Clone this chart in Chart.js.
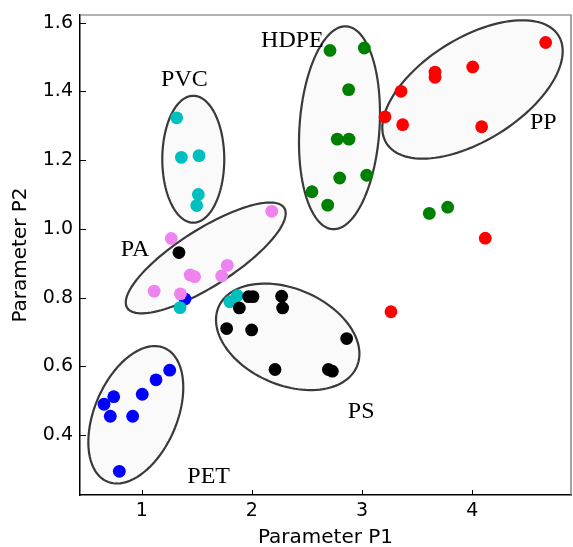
<!DOCTYPE html>
<html><head><meta charset="utf-8">
<script src="https://cdn.jsdelivr.net/npm/chart.js@4/dist/chart.umd.min.js"></script>
<style>html,body{margin:0;padding:0;background:#fff}</style>
</head><body>
<canvas id="c" width="573" height="547"></canvas>
<script>
// ---- data ----
const petX = [0.658, 0.746, 0.715, 0.918, 1.005, 1.13, 1.254, 0.797, 1.393];
const petY = [0.490, 0.512, 0.455, 0.455, 0.519, 0.561, 0.589, 0.295, 0.796];
const paX = [1.268, 2.18, 1.777, 1.113, 1.351, 1.44, 1.48, 1.726];
const paY = [0.972, 1.051, 0.894, 0.819, 0.811, 0.866, 0.861, 0.863];
const pvcX = [1.318, 1.36, 1.52, 1.514, 1.499, 1.348, 1.80, 1.868];
const pvcY = [1.323, 1.208, 1.213, 1.100, 1.068, 0.771, 0.788, 0.806];
const psX = [1.338, 1.97, 2.01, 2.270, 2.279, 1.886, 1.771, 1.998, 2.860, 2.210, 2.694, 2.730];
const psY = [0.931, 0.803, 0.803, 0.804, 0.770, 0.770, 0.710, 0.706, 0.681, 0.591, 0.591, 0.586];
const hdpeX = [2.709, 3.02, 2.878, 2.775, 2.881, 2.797, 3.042, 2.545, 2.688, 3.61, 3.777];
const hdpeY = [1.519, 1.526, 1.405, 1.261, 1.261, 1.148, 1.156, 1.108, 1.069, 1.045, 1.063];
const ppX = [4.666, 4.004, 3.662, 3.662, 3.353, 3.208, 3.368, 4.085, 4.118, 3.262];
const ppY = [1.542, 1.471, 1.456, 1.441, 1.400, 1.326, 1.303, 1.297, 0.973, 0.759];

const xTicks = [1, 2, 3, 4];
const yTicks = [0.4, 0.6, 0.8, 1.0, 1.2, 1.4, 1.6];

const groupNames = ['PVC', 'HDPE', 'PP', 'PA', 'PS', 'PET'];
const labelX = [1.388, 2.368, 4.644, 0.939, 2.992, 1.608];
const labelY = [1.415, 1.529, 1.289, 0.921, 0.449, 0.260];

// ellipse centres and semi-axis vectors, in data units
const ellCX = [1.468, 2.795, 4.002, 1.581, 2.325, 0.9465];
const ellCY = [1.2026, 1.294, 1.4055, 0.9154, 0.686, 0.4593];
const ellUX = [0, 0.0627, 0.7804, 0.7124, 0.6275, 0.2599];
const ellUY = [0.1846, 0.2950, 0.1567, 0.1454, -0.0866, 0.1942];
const ellVX = [0.2813, -0.3621, -0.2474, -0.1385, 0.1726, -0.3436];
const ellVY = [0, 0.0079, 0.1263, 0.0696, 0.1284, 0.0472];

const pts = (xs, ys) => xs.map((x, i) => ({x, y: ys[i]}));

const ellipsePlugin = {
  id: 'ellipses',
  beforeDatasetsDraw(chart) {
    const {ctx, scales: {x, y}} = chart;
    ctx.save();
    for (let k = 0; k < ellCX.length; k++) {
      ctx.beginPath();
      for (let i = 0; i <= 120; i++) {
        const t = i / 120 * Math.PI * 2;
        const dx = ellCX[k] + ellUX[k] * Math.cos(t) + ellVX[k] * Math.sin(t);
        const dy = ellCY[k] + ellUY[k] * Math.cos(t) + ellVY[k] * Math.sin(t);
        const px = x.getPixelForValue(dx), py = y.getPixelForValue(dy);
        if (i === 0) ctx.moveTo(px, py); else ctx.lineTo(px, py);
      }
      ctx.closePath();
      ctx.fillStyle = '#fafafa';
      ctx.fill();
      ctx.strokeStyle = '#3a3a3a';
      ctx.lineWidth = 2.2;
      ctx.stroke();
    }
    ctx.restore();
  },
  afterDatasetsDraw(chart) {
    const {ctx, scales: {x, y}} = chart;
    ctx.save();
    ctx.font = '24px "Liberation Serif", "Times New Roman", serif';
    ctx.fillStyle = '#000';
    ctx.textAlign = 'center';
    ctx.textBaseline = 'alphabetic';
    groupNames.forEach((n, i) => ctx.fillText(n, x.getPixelForValue(labelX[i]), y.getPixelForValue(labelY[i])));
    ctx.restore();
  },
  afterDraw(chart) {
    const {ctx, chartArea: a, scales: {x, y}} = chart;
    ctx.save();
    ctx.strokeStyle = '#666';
    ctx.lineWidth = 1.2;
    ctx.beginPath();
    ctx.moveTo(a.left, a.top); ctx.lineTo(a.right, a.top); ctx.lineTo(a.right, a.bottom);
    ctx.stroke();
    ctx.strokeStyle = '#000';
    ctx.lineWidth = 1;
    ctx.beginPath();
    xTicks.forEach(v => { const p = Math.round(x.getPixelForValue(v)) + 0.5; ctx.moveTo(p, a.bottom); ctx.lineTo(p, a.bottom - 5); });
    yTicks.forEach(v => { const p = Math.round(y.getPixelForValue(v)) + 0.5; ctx.moveTo(a.left, p); ctx.lineTo(a.left + 6, p); });
    ctx.stroke();
    ctx.restore();
  }
};

const ds = (label, xs, ys, color) => ({
  label, data: pts(xs, ys), backgroundColor: color, borderWidth: 0,
  pointRadius: 6.4, pointHoverRadius: 6.4
});

new Chart(document.getElementById('c'), {
  type: 'scatter',
  data: {
    datasets: [
      ds('PP', ppX, ppY, '#ff0000'),
      ds('HDPE', hdpeX, hdpeY, '#008000'),
      ds('PS', psX, psY, '#000000'),
      ds('PVC', pvcX, pvcY, '#00bfbf'),
      ds('PA', paX, paY, '#ee82ee'),
      ds('PET', petX, petY, '#0000ff')
    ]
  },
  options: {
    responsive: false,
    animation: false,
    devicePixelRatio: 1,
    layout: {autoPadding: false, padding: {left: 0, top: 15, right: 2, bottom: 0}},
    plugins: {legend: {display: false}, tooltip: {enabled: false}},
    scales: {
      x: {
        type: 'linear', min: 0.44, max: 4.896,
        afterBuildTicks: s => { s.ticks = xTicks.map(v => ({value: v})); },
        afterFit: s => { s.height = 52; s.paddingLeft = 0; s.paddingRight = 0; },
        grid: {display: true, drawOnChartArea: false, drawTicks: false},
        border: {display: true, color: '#000', width: 1.5},
        ticks: {color: '#000', padding: 5, font: {family: '"DejaVu Sans", sans-serif', size: 19}, callback: v => String(v)},
        title: {display: true, text: 'Parameter P1', color: '#000', padding: {top: 0, bottom: 0},
          font: {family: '"DejaVu Sans", sans-serif', size: 20, lineHeight: 0.9}}
      },
      y: {
        type: 'linear', min: 0.226, max: 1.622,
        afterBuildTicks: s => { s.ticks = yTicks.map(v => ({value: v})); },
        afterFit: s => { s.width = 80; s.paddingTop = 0; s.paddingBottom = 0; },
        grid: {display: true, drawOnChartArea: false, drawTicks: false},
        border: {display: true, color: '#000', width: 1.5},
        ticks: {color: '#000', padding: 7, font: {family: '"DejaVu Sans", sans-serif', size: 19}, callback: v => v.toFixed(1)},
        title: {display: true, text: 'Parameter P2', color: '#000', padding: {top: 12, bottom: 0},
          font: {family: '"DejaVu Sans", sans-serif', size: 20, lineHeight: 0.9}}
      }
    }
  },
  plugins: [ellipsePlugin]
});
</script>
</body></html>
